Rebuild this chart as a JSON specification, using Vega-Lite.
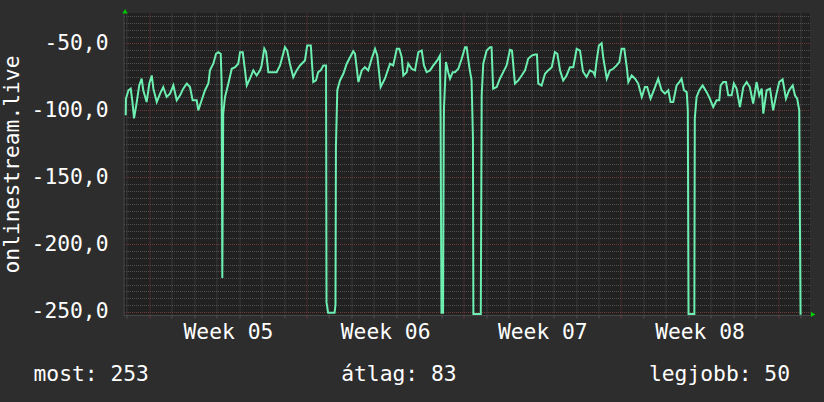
{
  "$schema": "https://vega.github.io/schema/vega-lite/v6.json",
  "width": 686.5,
  "height": 302,
  "autosize": "none",
  "padding": {"left": 123.5, "top": 13, "right": 14, "bottom": 87},
  "background": "#2d2d2d",
  "config": {
    "view": {"fill": "#212121", "stroke": null},
    "axis": {
      "labelFont": "DejaVu Sans Mono",
      "titleFont": "DejaVu Sans Mono",
      "labelFontSize": 21.3,
      "titleFontSize": 21.3,
      "labelColor": "#ffffff",
      "titleColor": "#ffffff",
      "titleFontWeight": "normal",
      "labelFontWeight": "normal"
    }
  },
  "resolve": {"axis": {"x": "independent", "y": "independent"}},
  "layer": [
    {
      "data": {"values": [
        {"day": -1.05, "value": -103.7}, {"day": -1.04, "value": -91.3}, {"day": -0.93, "value": -85}, {"day": -0.83, "value": -83.8}, {"day": -0.76, "value": -92.5}, {"day": -0.68, "value": -106}, {"day": -0.56, "value": -93.8}, {"day": -0.45, "value": -81.4}, {"day": -0.34, "value": -76.4}, {"day": -0.27, "value": -85}, {"day": -0.12, "value": -93.8}, {"day": 0, "value": -80}, {"day": 0.11, "value": -74}, {"day": 0.18, "value": -83.8}, {"day": 0.33, "value": -93.8}, {"day": 0.48, "value": -87.5}, {"day": 0.62, "value": -82.6}, {"day": 0.77, "value": -90}, {"day": 0.92, "value": -87.5}, {"day": 1.07, "value": -81.4}, {"day": 1.22, "value": -92.5}, {"day": 1.37, "value": -88.8}, {"day": 1.51, "value": -83.8}, {"day": 1.67, "value": -80}, {"day": 1.81, "value": -82.6}, {"day": 1.93, "value": -92.5}, {"day": 2.11, "value": -92.5}, {"day": 2.18, "value": -100}, {"day": 2.33, "value": -92.5}, {"day": 2.48, "value": -85}, {"day": 2.63, "value": -80}, {"day": 2.70, "value": -70.2}, {"day": 2.85, "value": -65.2}, {"day": 2.97, "value": -57.8}, {"day": 3.07, "value": -56.6}, {"day": 3.18, "value": -57.8}, {"day": 3.22, "value": -80}, {"day": 3.25, "value": -225}, {"day": 3.29, "value": -102.4}, {"day": 3.37, "value": -90}, {"day": 3.52, "value": -80}, {"day": 3.67, "value": -69}, {"day": 3.82, "value": -67.8}, {"day": 3.96, "value": -65.2}, {"day": 4.04, "value": -56.6}, {"day": 4.16, "value": -56.6}, {"day": 4.26, "value": -70.2}, {"day": 4.34, "value": -81.4}, {"day": 4.48, "value": -76.4}, {"day": 4.63, "value": -70.2}, {"day": 4.78, "value": -74}, {"day": 4.93, "value": -70.2}, {"day": 5.00, "value": -66.5}, {"day": 5.12, "value": -54}, {"day": 5.20, "value": -56.6}, {"day": 5.30, "value": -71.5}, {"day": 5.37, "value": -71.5}, {"day": 5.67, "value": -71.5}, {"day": 5.82, "value": -66.5}, {"day": 6.04, "value": -52.9}, {"day": 6.14, "value": -55.4}, {"day": 6.26, "value": -65.2}, {"day": 6.41, "value": -75.2}, {"day": 6.56, "value": -70.2}, {"day": 6.71, "value": -66.5}, {"day": 6.93, "value": -62.8}, {"day": 7.03, "value": -51.6}, {"day": 7.19, "value": -51.6}, {"day": 7.30, "value": -78.9}, {"day": 7.42, "value": -77.7}, {"day": 7.52, "value": -71.5}, {"day": 7.63, "value": -70.2}, {"day": 7.75, "value": -66.5}, {"day": 7.87, "value": -66.5}, {"day": 7.89, "value": -243}, {"day": 7.96, "value": -251}, {"day": 8.25, "value": -251}, {"day": 8.29, "value": -245}, {"day": 8.31, "value": -127.2}, {"day": 8.37, "value": -85}, {"day": 8.49, "value": -77.7}, {"day": 8.64, "value": -72.7}, {"day": 8.79, "value": -65.2}, {"day": 9.08, "value": -55.9}, {"day": 9.16, "value": -57.8}, {"day": 9.31, "value": -78.9}, {"day": 9.46, "value": -70.2}, {"day": 9.60, "value": -67.8}, {"day": 9.75, "value": -70.2}, {"day": 9.90, "value": -61.5}, {"day": 10.05, "value": -54.1}, {"day": 10.15, "value": -59.1}, {"day": 10.30, "value": -82.6}, {"day": 10.49, "value": -76.4}, {"day": 10.72, "value": -65.2}, {"day": 10.86, "value": -66.5}, {"day": 11.02, "value": -54.1}, {"day": 11.13, "value": -54.1}, {"day": 11.24, "value": -60.3}, {"day": 11.31, "value": -74}, {"day": 11.46, "value": -71.5}, {"day": 11.53, "value": -65.2}, {"day": 11.68, "value": -69}, {"day": 11.83, "value": -70.2}, {"day": 11.98, "value": -56.6}, {"day": 12.13, "value": -55.4}, {"day": 12.23, "value": -66.5}, {"day": 12.35, "value": -71.5}, {"day": 12.50, "value": -70.2}, {"day": 12.64, "value": -66.7}, {"day": 12.82, "value": -62.8}, {"day": 12.94, "value": -59.1}, {"day": 12.97, "value": -105}, {"day": 13.01, "value": -251}, {"day": 13.08, "value": -251}, {"day": 13.11, "value": -120}, {"day": 13.12, "value": -98.5}, {"day": 13.21, "value": -64}, {"day": 13.31, "value": -71.5}, {"day": 13.39, "value": -76.4}, {"day": 13.51, "value": -71.5}, {"day": 13.61, "value": -71.5}, {"day": 13.76, "value": -69}, {"day": 13.91, "value": -61.5}, {"day": 14.06, "value": -52.9}, {"day": 14.13, "value": -52.9}, {"day": 14.25, "value": -67.8}, {"day": 14.35, "value": -77.7}, {"day": 14.41, "value": -120}, {"day": 14.43, "value": -251.9}, {"day": 14.76, "value": -251.9}, {"day": 14.80, "value": -88.8}, {"day": 14.87, "value": -65.2}, {"day": 15.02, "value": -55.4}, {"day": 15.17, "value": -52.9}, {"day": 15.24, "value": -52.9}, {"day": 15.31, "value": -83.8}, {"day": 15.47, "value": -82.6}, {"day": 15.61, "value": -76.4}, {"day": 15.76, "value": -71.5}, {"day": 15.91, "value": -66.5}, {"day": 16.06, "value": -54.9}, {"day": 16.15, "value": -55.4}, {"day": 16.28, "value": -80}, {"day": 16.43, "value": -77.7}, {"day": 16.58, "value": -74}, {"day": 16.73, "value": -70.2}, {"day": 16.87, "value": -61.5}, {"day": 17.03, "value": -59.1}, {"day": 17.17, "value": -58.3}, {"day": 17.26, "value": -58.3}, {"day": 17.32, "value": -80}, {"day": 17.47, "value": -81.4}, {"day": 17.62, "value": -72.7}, {"day": 17.76, "value": -70.2}, {"day": 17.92, "value": -67.8}, {"day": 18.06, "value": -56.6}, {"day": 18.17, "value": -57.8}, {"day": 18.29, "value": -70.2}, {"day": 18.43, "value": -77.7}, {"day": 18.58, "value": -74}, {"day": 18.73, "value": -67.8}, {"day": 18.88, "value": -67.8}, {"day": 19.03, "value": -54.1}, {"day": 19.18, "value": -55.4}, {"day": 19.31, "value": -71}, {"day": 19.47, "value": -75.2}, {"day": 19.62, "value": -70.2}, {"day": 19.77, "value": -71.5}, {"day": 19.84, "value": -74}, {"day": 19.92, "value": -62.8}, {"day": 20.02, "value": -51.6}, {"day": 20.14, "value": -49.9}, {"day": 20.21, "value": -60.3}, {"day": 20.37, "value": -76.4}, {"day": 20.51, "value": -70.2}, {"day": 20.66, "value": -69}, {"day": 20.81, "value": -66.5}, {"day": 20.93, "value": -64}, {"day": 21.03, "value": -54.1}, {"day": 21.15, "value": -54.1}, {"day": 21.26, "value": -67.8}, {"day": 21.33, "value": -78.9}, {"day": 21.48, "value": -74}, {"day": 21.63, "value": -76.4}, {"day": 21.77, "value": -80}, {"day": 21.93, "value": -90}, {"day": 22.07, "value": -82.6}, {"day": 22.17, "value": -82.6}, {"day": 22.32, "value": -91.3}, {"day": 22.52, "value": -82.6}, {"day": 22.66, "value": -76.4}, {"day": 22.81, "value": -85}, {"day": 22.96, "value": -87.5}, {"day": 23.11, "value": -85}, {"day": 23.21, "value": -93.8}, {"day": 23.33, "value": -93.8}, {"day": 23.48, "value": -81.4}, {"day": 23.60, "value": -78.9}, {"day": 23.70, "value": -76.4}, {"day": 23.81, "value": -85}, {"day": 23.93, "value": -86.4}, {"day": 23.98, "value": -100}, {"day": 24.01, "value": -251.9}, {"day": 24.27, "value": -251.9}, {"day": 24.29, "value": -106}, {"day": 24.37, "value": -90}, {"day": 24.49, "value": -85}, {"day": 24.64, "value": -81.4}, {"day": 24.82, "value": -86.4}, {"day": 24.96, "value": -91.3}, {"day": 25.11, "value": -97.5}, {"day": 25.26, "value": -92.5}, {"day": 25.38, "value": -92.5}, {"day": 25.44, "value": -81.4}, {"day": 25.56, "value": -78.9}, {"day": 25.68, "value": -78.9}, {"day": 25.78, "value": -88.8}, {"day": 25.93, "value": -88.8}, {"day": 26.03, "value": -80}, {"day": 26.15, "value": -83.8}, {"day": 26.30, "value": -97.5}, {"day": 26.45, "value": -82.6}, {"day": 26.60, "value": -78.9}, {"day": 26.74, "value": -82.6}, {"day": 26.89, "value": -95}, {"day": 27.04, "value": -78.9}, {"day": 27.16, "value": -88.8}, {"day": 27.27, "value": -83.8}, {"day": 27.34, "value": -102.4}, {"day": 27.49, "value": -85}, {"day": 27.64, "value": -83.8}, {"day": 27.78, "value": -100}, {"day": 27.93, "value": -87.5}, {"day": 28.05, "value": -78.9}, {"day": 28.20, "value": -76.9}, {"day": 28.35, "value": -91.3}, {"day": 28.49, "value": -85}, {"day": 28.65, "value": -81.4}, {"day": 28.75, "value": -88.8}, {"day": 28.85, "value": -91.3}, {"day": 28.94, "value": -100}, {"day": 29.00, "value": -252.5}
      ]},
      "mark": {"type": "line", "color": "#6cefb0", "strokeWidth": 2},
      "encoding": {
        "x": {
          "field": "day", "type": "quantitative",
          "scale": {"domain": [-1.15, 29.42], "nice": false, "zero": false},
          "axis": {
            "orient": "bottom",
            "values": [-1, 0, 1, 2, 3, 4, 5, 6, 7, 8, 9, 10, 11, 12, 13, 14, 15, 16, 17, 18, 19, 20, 21, 22, 23, 24, 25, 26, 27, 28, 29],
            "labels": false, "title": null,
            "grid": true,
            "gridColor": {"condition": {"test": "datum.value % 7 === 0", "value": "#703838"}, "value": "#505050"},
            "gridDash": [1, 1],
            "ticks": true, "tickSize": 3,
            "tickColor": {"condition": {"test": "datum.value % 7 === 0", "value": "#703838"}, "value": "#505050"},
            "domainColor": "#484848"
          }
        },
        "y": {
          "field": "value", "type": "quantitative",
          "scale": {"domain": [-252.6, -27.4], "nice": false, "zero": false},
          "axis": {
            "orient": "left",
            "values": [-250, -245, -240, -235, -230, -225, -220, -215, -210, -205, -200, -195, -190, -185, -180, -175, -170, -165, -160, -155, -150, -145, -140, -135, -130, -125, -120, -115, -110, -105, -100, -95, -90, -85, -80, -75, -70, -65, -60, -55, -50, -45, -40, -35, -30],
            "labels": false, "title": null,
            "grid": true,
            "gridColor": {"condition": {"test": "datum.value % 50 === 0", "value": "#703838"}, "value": "#505050"},
            "gridDash": [1, 1],
            "ticks": false,
            "domainColor": "#484848"
          }
        }
      }
    },
    {
      "data": {"values": [
        {"day": -1.08, "value": -26.1, "arrow": "up"},
        {"day": 29.56, "value": -252.2, "arrow": "right"}
      ]},
      "mark": {"type": "point", "filled": true, "size": 28, "opacity": 1},
      "encoding": {
        "x": {
          "field": "day", "type": "quantitative",
          "scale": {"domain": [-1.15, 29.42], "nice": false, "zero": false},
          "axis": {
            "orient": "bottom",
            "values": [3.5, 10.5, 17.5, 24.5],
            "labelExpr": "'Week ' + (datum.value < 7 ? '05' : datum.value < 14 ? '06' : datum.value < 21 ? '07' : '08')",
            "grid": false, "ticks": false, "domain": false,
            "labelPadding": 23.3, "labelBaseline": "alphabetic", "labelAlign": "center",
            "labelFlush": false, "labelOverlap": false,
            "title": "most: 253\u00a0\u00a0\u00a0\u00a0\u00a0\u00a0\u00a0\u00a0\u00a0\u00a0\u00a0\u00a0\u00a0\u00a0\u00a0átlag: 83\u00a0\u00a0\u00a0\u00a0\u00a0\u00a0\u00a0\u00a0\u00a0\u00a0\u00a0\u00a0\u00a0\u00a0\u00a0legjobb: 50",
            "titleX": -90.5, "titleY": 65.7,
            "titleAlign": "left", "titleBaseline": "alphabetic", "titleAngle": 0
          }
        },
        "y": {
          "field": "value", "type": "quantitative",
          "scale": {"domain": [-252.6, -27.4], "nice": false, "zero": false},
          "axis": {
            "orient": "left",
            "values": [-250, -200, -150, -100, -50],
            "labelExpr": "'-' + replace(format(-datum.value, '.1f'), '.', ',')",
            "grid": false, "ticks": false, "domain": false,
            "labelPadding": 15.5, "labelBaseline": "middle", "labelOverlap": false,
            "title": "onlinestream.live",
            "titleX": -111.5, "titleY": 151,
            "titleAngle": 270, "titleAlign": "center", "titleBaseline": "middle"
          }
        },
        "shape": {"field": "arrow", "type": "nominal", "scale": {"domain": ["up", "right"], "range": ["triangle-up", "triangle-right"]}, "legend": null},
        "color": {"value": "#00cc00"}
      }
    }
  ]
}
